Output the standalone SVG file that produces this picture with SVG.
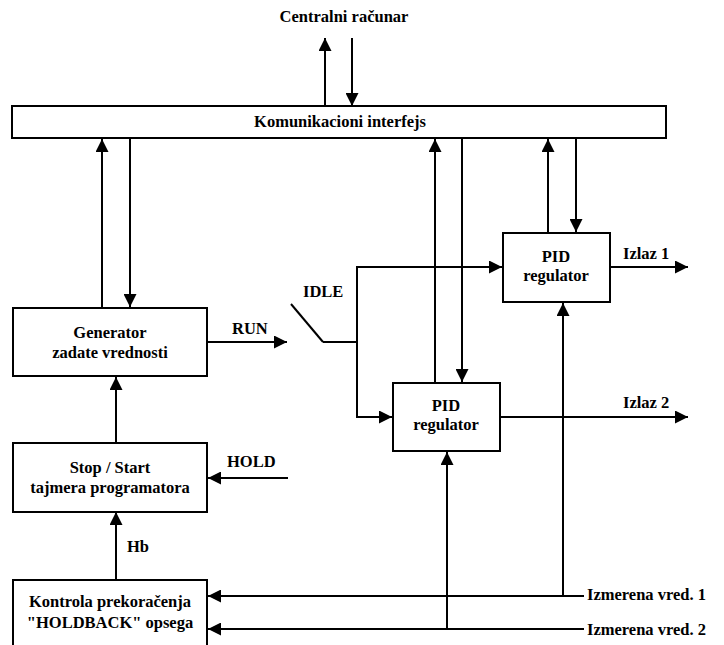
<svg xmlns="http://www.w3.org/2000/svg" width="724" height="645" viewBox="0 0 724 645">
<defs>
<marker id="ah" viewBox="0 0 10 10" refX="10" refY="5" markerWidth="13" markerHeight="13" markerUnits="userSpaceOnUse" orient="auto">
<path d="M0,0 L10,5 L0,10 z" fill="#000"/>
</marker>
<style>
.box{fill:#fff;stroke:#000;stroke-width:2}
.t{font-family:"Liberation Serif","Times New Roman",serif;font-weight:bold;font-size:16.5px;fill:#000;text-anchor:middle}
.tl{font-family:"Liberation Serif","Times New Roman",serif;font-weight:bold;font-size:16.5px;fill:#000;text-anchor:start}
.ln{fill:none;stroke:#000;stroke-width:2}
.ar{fill:none;stroke:#000;stroke-width:2;marker-end:url(#ah)}
</style>
</defs>
<rect width="724" height="645" fill="#fff"/>
<text class="t" x="344" y="22">Centralni računar</text>
<g id="connectors">
<line class="ar" x1="325" y1="106" x2="325" y2="38"/>
<line class="ar" x1="352" y1="38" x2="352" y2="106"/>
<line class="ar" x1="102" y1="308" x2="102" y2="139"/>
<line class="ar" x1="130" y1="139" x2="130" y2="307"/>
<line class="ar" x1="435" y1="382" x2="435" y2="139"/>
<line class="ar" x1="462" y1="139" x2="462" y2="382"/>
<line class="ar" x1="548" y1="232" x2="548" y2="139"/>
<line class="ar" x1="576" y1="139" x2="576" y2="232"/>
<line class="ar" x1="207" y1="342" x2="287" y2="342"/>
<line class="ln" x1="291" y1="304" x2="323" y2="342"/>
<polyline class="ln" points="323,342 357,342"/>
<line class="ln" x1="357" y1="266" x2="357" y2="418"/>
<polyline class="ar" points="357,267 502,267"/>
<polyline class="ar" points="357,417 392,417"/>
<line class="ar" x1="611" y1="267" x2="688" y2="267"/>
<line class="ar" x1="500" y1="417" x2="688" y2="417"/>
<line class="ar" x1="116" y1="443" x2="116" y2="377"/>
<line class="ar" x1="288" y1="478" x2="208" y2="478"/>
<line class="ar" x1="116" y1="579" x2="116" y2="512"/>
<line class="ar" x1="584" y1="596" x2="208" y2="596"/>
<line class="ar" x1="584" y1="629" x2="208" y2="629"/>
<line class="ar" x1="563" y1="596" x2="563" y2="303"/>
<line class="ar" x1="447" y1="629" x2="447" y2="452"/>
</g>
<g id="komunikacioni">
<rect class="box" x="12" y="106" width="654" height="32"/>
<text class="t" x="340" y="127">Komunikacioni interfejs</text>
</g>
<g id="generator">
<rect class="box" x="13" y="308" width="194" height="68"/>
<text class="t" x="110" y="338">Generator</text>
<text class="t" x="110" y="358">zadate vrednosti</text>
</g>
<g id="pid1">
<rect class="box" x="503" y="233" width="107" height="69"/>
<text class="t" x="556" y="262">PID</text>
<text class="t" x="556" y="281">regulator</text>
</g>
<g id="pid2">
<rect class="box" x="393" y="383" width="107" height="68"/>
<text class="t" x="446" y="411">PID</text>
<text class="t" x="446" y="430">regulator</text>
</g>
<g id="stopstart">
<rect class="box" x="13" y="443" width="194" height="69"/>
<text class="t" x="110" y="473">Stop / Start</text>
<text class="t" x="110" y="493">tajmera programatora</text>
</g>
<g id="kontrola">
<rect class="box" x="13" y="580" width="194" height="80"/>
<text class="t" x="110" y="607">Kontrola prekoračenja</text>
<text class="t" x="110" y="628">"HOLDBACK" opsega</text>
</g>
<g id="labels">
<text class="tl" x="232" y="334">RUN</text>
<text class="tl" x="303" y="297">IDLE</text>
<text class="tl" x="623" y="259">Izlaz 1</text>
<text class="tl" x="623" y="408">Izlaz 2</text>
<text class="tl" x="227" y="467">HOLD</text>
<text class="tl" x="127" y="552">Hb</text>
<text class="tl" x="587" y="600">Izmerena vred. 1</text>
<text class="tl" x="587" y="635">Izmerena vred. 2</text>
</g>
</svg>
